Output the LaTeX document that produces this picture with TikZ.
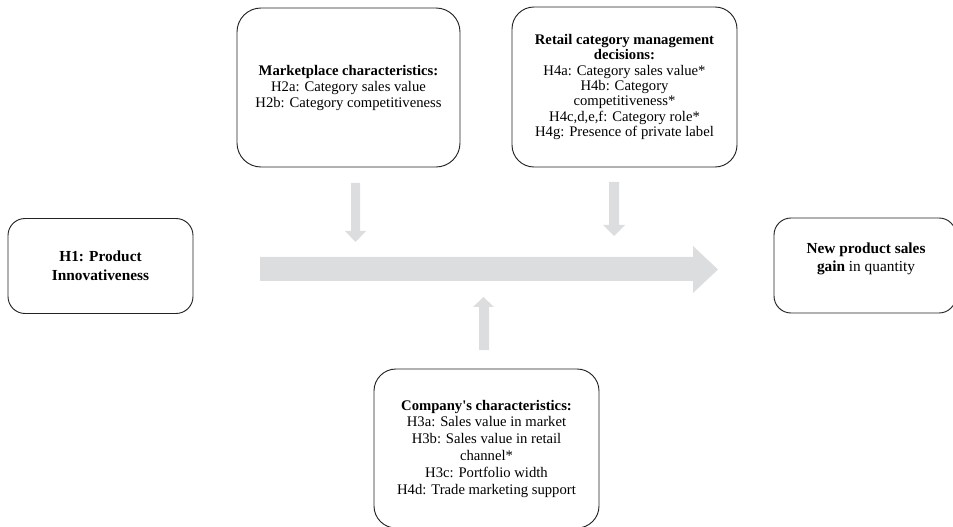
\documentclass[tikz,border=0pt]{standalone}
\usepackage{fontspec}
\setmainfont{Liberation Serif}
\definecolor{flowgray}{RGB}{220,221,223}
\definecolor{edgeink}{RGB}{35,35,35}
\begin{document}
\begin{tikzpicture}[x=0.75pt,y=-0.75pt,
  factorbox/.style={draw=edgeink, line width=0.7pt, align=center, inner sep=0pt},
  flow/.style={fill=flowgray, draw=none}]
\useasboundingbox (0,0) rectangle (953,527);

% influencing factors
\node (mkt) [factorbox, rounded corners=18pt, minimum width=167.25pt, minimum height=119.25pt,
  font=\fontsize{11}{12}\selectfont] at (348.5,87.5)
  {\textbf{Marketplace characteristics:}\\H2a: Category sales value\\H2b: Category competitiveness};

\node (ret) [factorbox, rounded corners=16.5pt, minimum width=168.75pt, minimum height=120pt,
  font=\fontsize{11}{11.5}\selectfont] at (624.5,87)
  {\textbf{Retail category management}\\\textbf{decisions:}\\H4a: Category sales value*\\H4b: Category\\competitiveness*\\H4c,d,e,f: Category role*\\H4g: Presence of private label};

\node (com) [factorbox, rounded corners=16.5pt, minimum width=168.75pt, minimum height=119.25pt,
  font=\fontsize{11}{12.6}\selectfont] at (486.5,448.5)
  {\textbf{Company\textquotesingle s characteristics:}\\H3a: Sales value in market\\H3b: Sales value in retail\\channel*\\H3c: Portfolio width\\H4d: Trade marketing support};

% cause and outcome
\node (h1) [factorbox, rounded corners=12.75pt, minimum width=138.75pt, minimum height=71.25pt,
  font=\fontsize{11.5}{14.25}\selectfont] at (100.5,266)
  {\textbf{H1: Product}\\\textbf{Innovativeness}};

\node (out) [factorbox, rounded corners=12.75pt, minimum width=136.5pt, minimum height=71.25pt] at (865,265.5) {};
\node (outtext) [align=center, inner sep=0pt, font=\fontsize{11.5}{13.5}\selectfont] at (866,259)
  {\textbf{New product sales}\\\textbf{gain} in quantity};

% main flow arrow
\fill[flow] (260,257) -- (693,257) -- (693,246) -- (718,269.5) -- (693,293) -- (693,281) -- (260,281) -- cycle;

% moderating arrows
\fill[flow] (351,183) -- (360,183) -- (360,231) -- (366,231) -- (355.5,242) -- (345,231) -- (351,231) -- cycle;
\fill[flow] (609,182) -- (619,182) -- (619,225) -- (625,225) -- (614,236) -- (603,225) -- (609,225) -- cycle;
\fill[flow] (479,350) -- (489,350) -- (489,307) -- (494,307) -- (483.5,297) -- (473,307) -- (479,307) -- cycle;
\end{tikzpicture}
\end{document}
